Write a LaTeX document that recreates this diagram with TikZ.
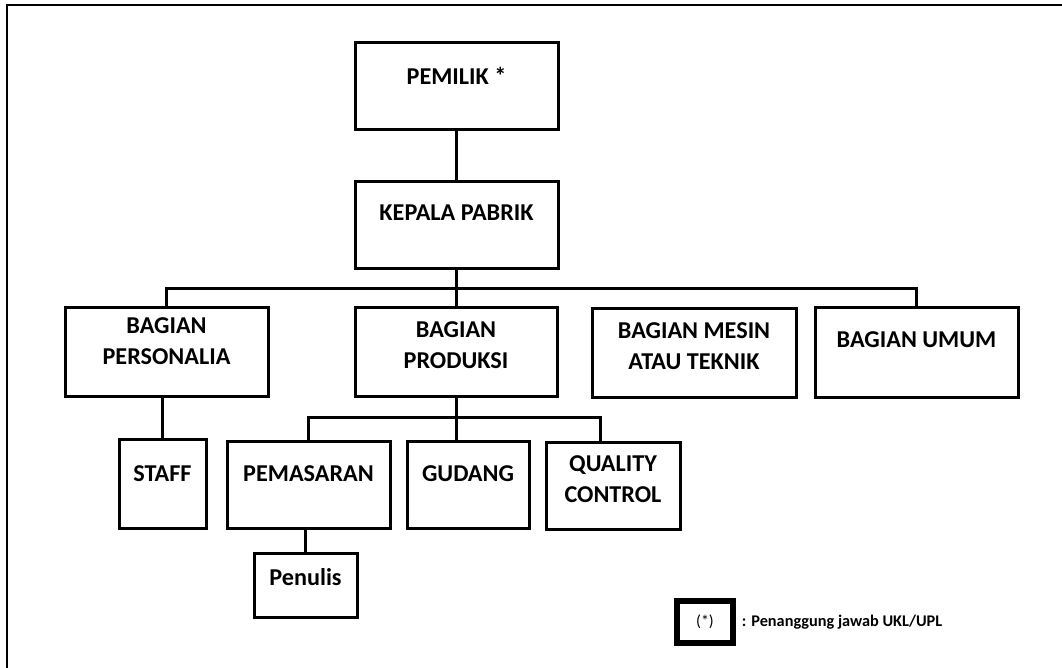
\documentclass[tikz,border=0pt]{standalone}
\usepackage{fontspec}
\setmainfont{Carlito}
\usetikzlibrary{positioning}

\tikzset{
  box/.style={draw, line width=3pt, inner sep=0pt},
  txt/.style={font=\fontsize{24.2}{31}\selectfont\bfseries, align=center, inner sep=0pt},
  link/.style={line width=3pt},
}

\begin{document}
\begin{tikzpicture}[x=1pt,y=-1pt]
\useasboundingbox (0,0) rectangle (1062,667);
\clip (0,0) rectangle (1062,667);
\draw[line width=2pt] (7,5) rectangle (1090,700);

% boxes
\node[box, minimum width=203pt, minimum height=87pt] (pemilik) at (456.5,85.5) {};
\node[box, minimum width=203pt, minimum height=87pt] (kepala) at (456.5,224.5) {};
\node[box, minimum width=203pt, minimum height=89pt] (personalia) at (166.5,351.5) {};
\node[box, minimum width=202pt, minimum height=89pt] (produksi) at (456,351.5) {};
\node[box, minimum width=204pt, minimum height=89pt] (mesin) at (694,352.5) {};
\node[box, minimum width=203pt, minimum height=90pt] (umum) at (916.5,352) {};
\node[box, minimum width=87pt, minimum height=89pt] (staff) at (162.5,483.5) {};
\node[box, minimum width=163pt, minimum height=87pt] (pemasaran) at (308.5,484.5) {};
\node[box, minimum width=122pt, minimum height=87pt] (gudang) at (468,484.5) {};
\node[box, minimum width=134pt, minimum height=87pt] (qc) at (613,485.5) {};
\node[box, minimum width=103pt, minimum height=64pt] (penulis) at (305.5,585) {};

% texts
\node[txt] (pemilik-t) at (456.5,76) {PEMILIK *};
\node[txt] (kepala-t) at (456.5,213) {KEPALA PABRIK};
\node[txt] (personalia-t) at (166.5,341.5) {BAGIAN\\PERSONALIA};
\node[txt] (produksi-t) at (456,345) {BAGIAN\\PRODUKSI};
\node[txt] (mesin-t) at (694,346) {BAGIAN MESIN\\ATAU TEKNIK};
\node[txt] (umum-t) at (916.5,340) {BAGIAN UMUM};
\node[txt] (staff-t) at (162.5,474) {STAFF};
\node[txt] (pemasaran-t) at (308.5,474) {PEMASARAN};
\node[txt] (gudang-t) at (468,474) {GUDANG};
\node[txt] (qc-t) at (613,479.5) {QUALITY\\CONTROL};
\node[txt] (penulis-t) at (305.5,577) {Penulis};

% lines
\coordinate (bus) at (456,288);
\coordinate (subbus) at (456,417);
\draw[link] (pemilik) -- (kepala);
\draw[link] (kepala.south) -- (kepala.south |- produksi.north);
\draw[link] (personalia.north) |- (bus) -| (umum.north);
\draw[link] (personalia.south -| staff.north) -- (staff.north);
\draw[link] (produksi.south) -- (produksi.south |- gudang.north);
\draw[link] (pemasaran.north) |- (subbus) -| ([xshift=-13pt]qc.north);
\draw[link] (pemasaran.south -| penulis.north) -- (penulis.north);

% keterangan
\node[box, line width=5.5pt, minimum width=56pt, minimum height=42pt,
  font=\fontsize{16}{18}\selectfont] (legend) at (705,622) {(*)};
\node[right=6pt of legend, inner sep=0pt,
  font=\fontsize{16.3}{18}\selectfont\bfseries] (legend-t) {: Penanggung jawab UKL/UPL};
\end{tikzpicture}
\end{document}
